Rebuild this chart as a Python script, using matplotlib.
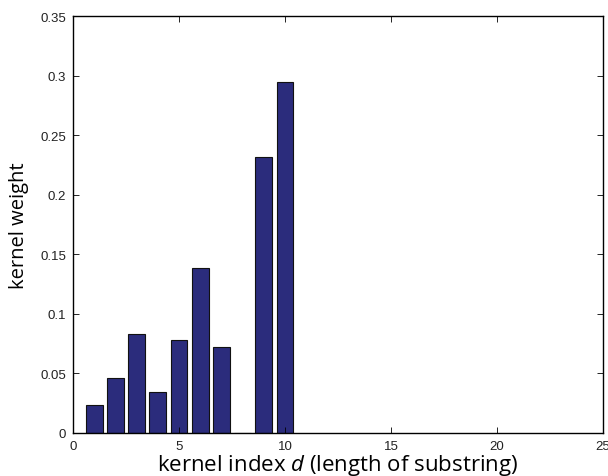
import matplotlib
matplotlib.use("Agg")
import matplotlib.pyplot as plt

kernel_index = [1, 2, 3, 4, 5, 6, 7, 8, 9, 10]
kernel_weight = [0.0235, 0.046, 0.083, 0.034, 0.078, 0.1385, 0.072, 0.0, 0.232, 0.295]
xticks = [0, 5, 10, 15, 20, 25]
yticks = [0, 0.05, 0.1, 0.15, 0.2, 0.25, 0.3, 0.35]
ytick_labels = ["0", "0.05", "0.1", "0.15", "0.2", "0.25", "0.3", "0.35"]

plt.rcParams["mathtext.fontset"] = "custom"
plt.rcParams["mathtext.it"] = "Open Sans:italic"
plt.rcParams["mathtext.rm"] = "Open Sans"

fig = plt.figure(figsize=(6.08, 4.77), dpi=100)
ax = fig.add_axes([73/608, 1 - 434/477, (603-73)/608, (434-17)/477])
ax.bar(kernel_index, kernel_weight, width=0.8, color="#2b2c7c", edgecolor="#111111", linewidth=0.8)
ax.set_xlim(0, 25)
ax.set_ylim(0, 0.35)
ax.set_xticks(xticks)
ax.set_xticklabels([str(t) for t in xticks], fontfamily="Liberation Sans", fontsize=9.5, color="#222222")
ax.set_yticks(yticks)
ax.set_yticklabels(ytick_labels, fontfamily="Liberation Sans", fontsize=9.5, color="#222222")
ax.tick_params(direction="in", top=True, right=True, length=4, width=0.6, pad=5)
for s in ax.spines.values():
    s.set_linewidth(1.0)
ax.set_xlabel(r"kernel index $d$ (length of substring)", fontfamily="Open Sans", fontsize=16, labelpad=0)
ax.set_ylabel("kernel weight", fontfamily="Open Sans", fontsize=14.5, labelpad=8)
fig.savefig("out.png", dpi=100)
